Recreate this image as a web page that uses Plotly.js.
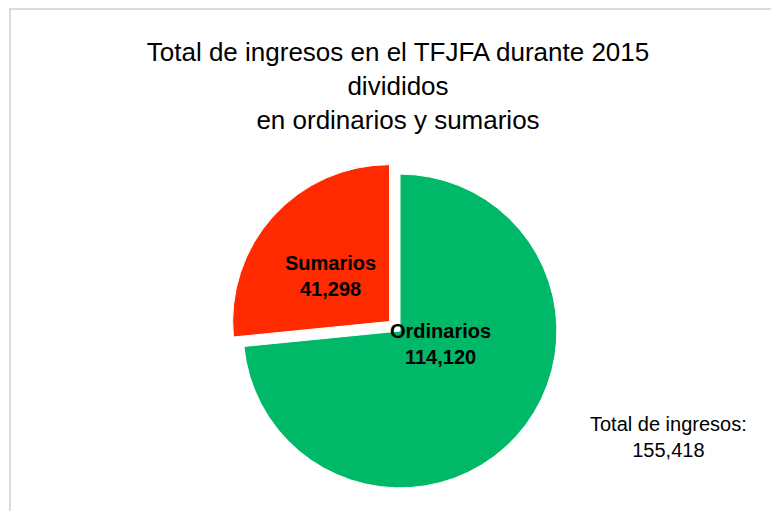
<!DOCTYPE html>
<html><head><meta charset="utf-8">
<script src="https://cdn.plot.ly/plotly-3.0.1.min.js"></script>
<style>html,body{margin:0;padding:0;background:#fff;}#chart{width:771px;height:511px;}</style>
</head><body><div id="chart"></div>
<script>
var categories = ["Ordinarios", "Sumarios"];
var values = [114120, 41298];
var sliceColors = ["#00B968", "#FF2A00"];
var titleLines = ["Total de ingresos en el TFJFA durante 2015", "divididos", "en ordinarios y sumarios"];
var totalLabel = "Total de ingresos:";

function fmt(n){ return n.toString().replace(/\B(?=(\d{3})+(?!\d))/g, ","); }
var total = values.reduce(function(a,b){return a+b;},0);

var W = 771, H = 511;
var font = "'Liberation Sans', Arial, sans-serif";

var trace = {
  type: "pie",
  labels: categories,
  values: values,
  sort: false,
  direction: "clockwise",
  rotation: 0,
  pull: [0, 0.09],
  marker: {colors: sliceColors, line: {color: "#ffffff", width: 1}},
  textinfo: "none",
  hoverinfo: "label+value",
  showlegend: false,
  domain: {x: [229/W, 571/W], y: [9/H, 351/H]}
};

var labelPos = [[440, 344], [330, 276]];
var annotations = categories.map(function(c, i){
  return {xref: "paper", yref: "paper", x: labelPos[i][0]/W, y: 1 - labelPos[i][1]/H,
    xanchor: "center", yanchor: "middle", showarrow: false,
    text: "<b>" + c + "<br>" + fmt(values[i]) + "</b>",
    font: {family: font, size: 20, color: "#000"}};
});
annotations.push({xref: "paper", yref: "paper", x: 668/W, y: 1 - 437/H,
  xanchor: "center", yanchor: "middle", showarrow: false,
  text: totalLabel + "<br>" + fmt(total),
  font: {family: font, size: 20, color: "#000"}});

var layout = {
  width: W, height: H,
  margin: {l: 0, r: 0, t: 0, b: 0},
  paper_bgcolor: "#ffffff",
  title: {text: titleLines.join("<br>"), x: 398/W, xanchor: "center",
    yref: "container", y: 1 - 61/H, yanchor: "top",
    font: {family: font, size: 26, color: "#000"}},
  annotations: annotations,
  shapes: [{type: "rect", xref: "paper", yref: "paper", x0: 10/W, x1: 1.02, y0: -0.05, y1: 1 - 9/H,
    line: {color: "#d0d0d0", width: 1.5}, fillcolor: "rgba(0,0,0,0)", layer: "below"}]
};

Plotly.newPlot("chart", [trace], layout, {displayModeBar: false, staticPlot: true});
</script></body></html>
